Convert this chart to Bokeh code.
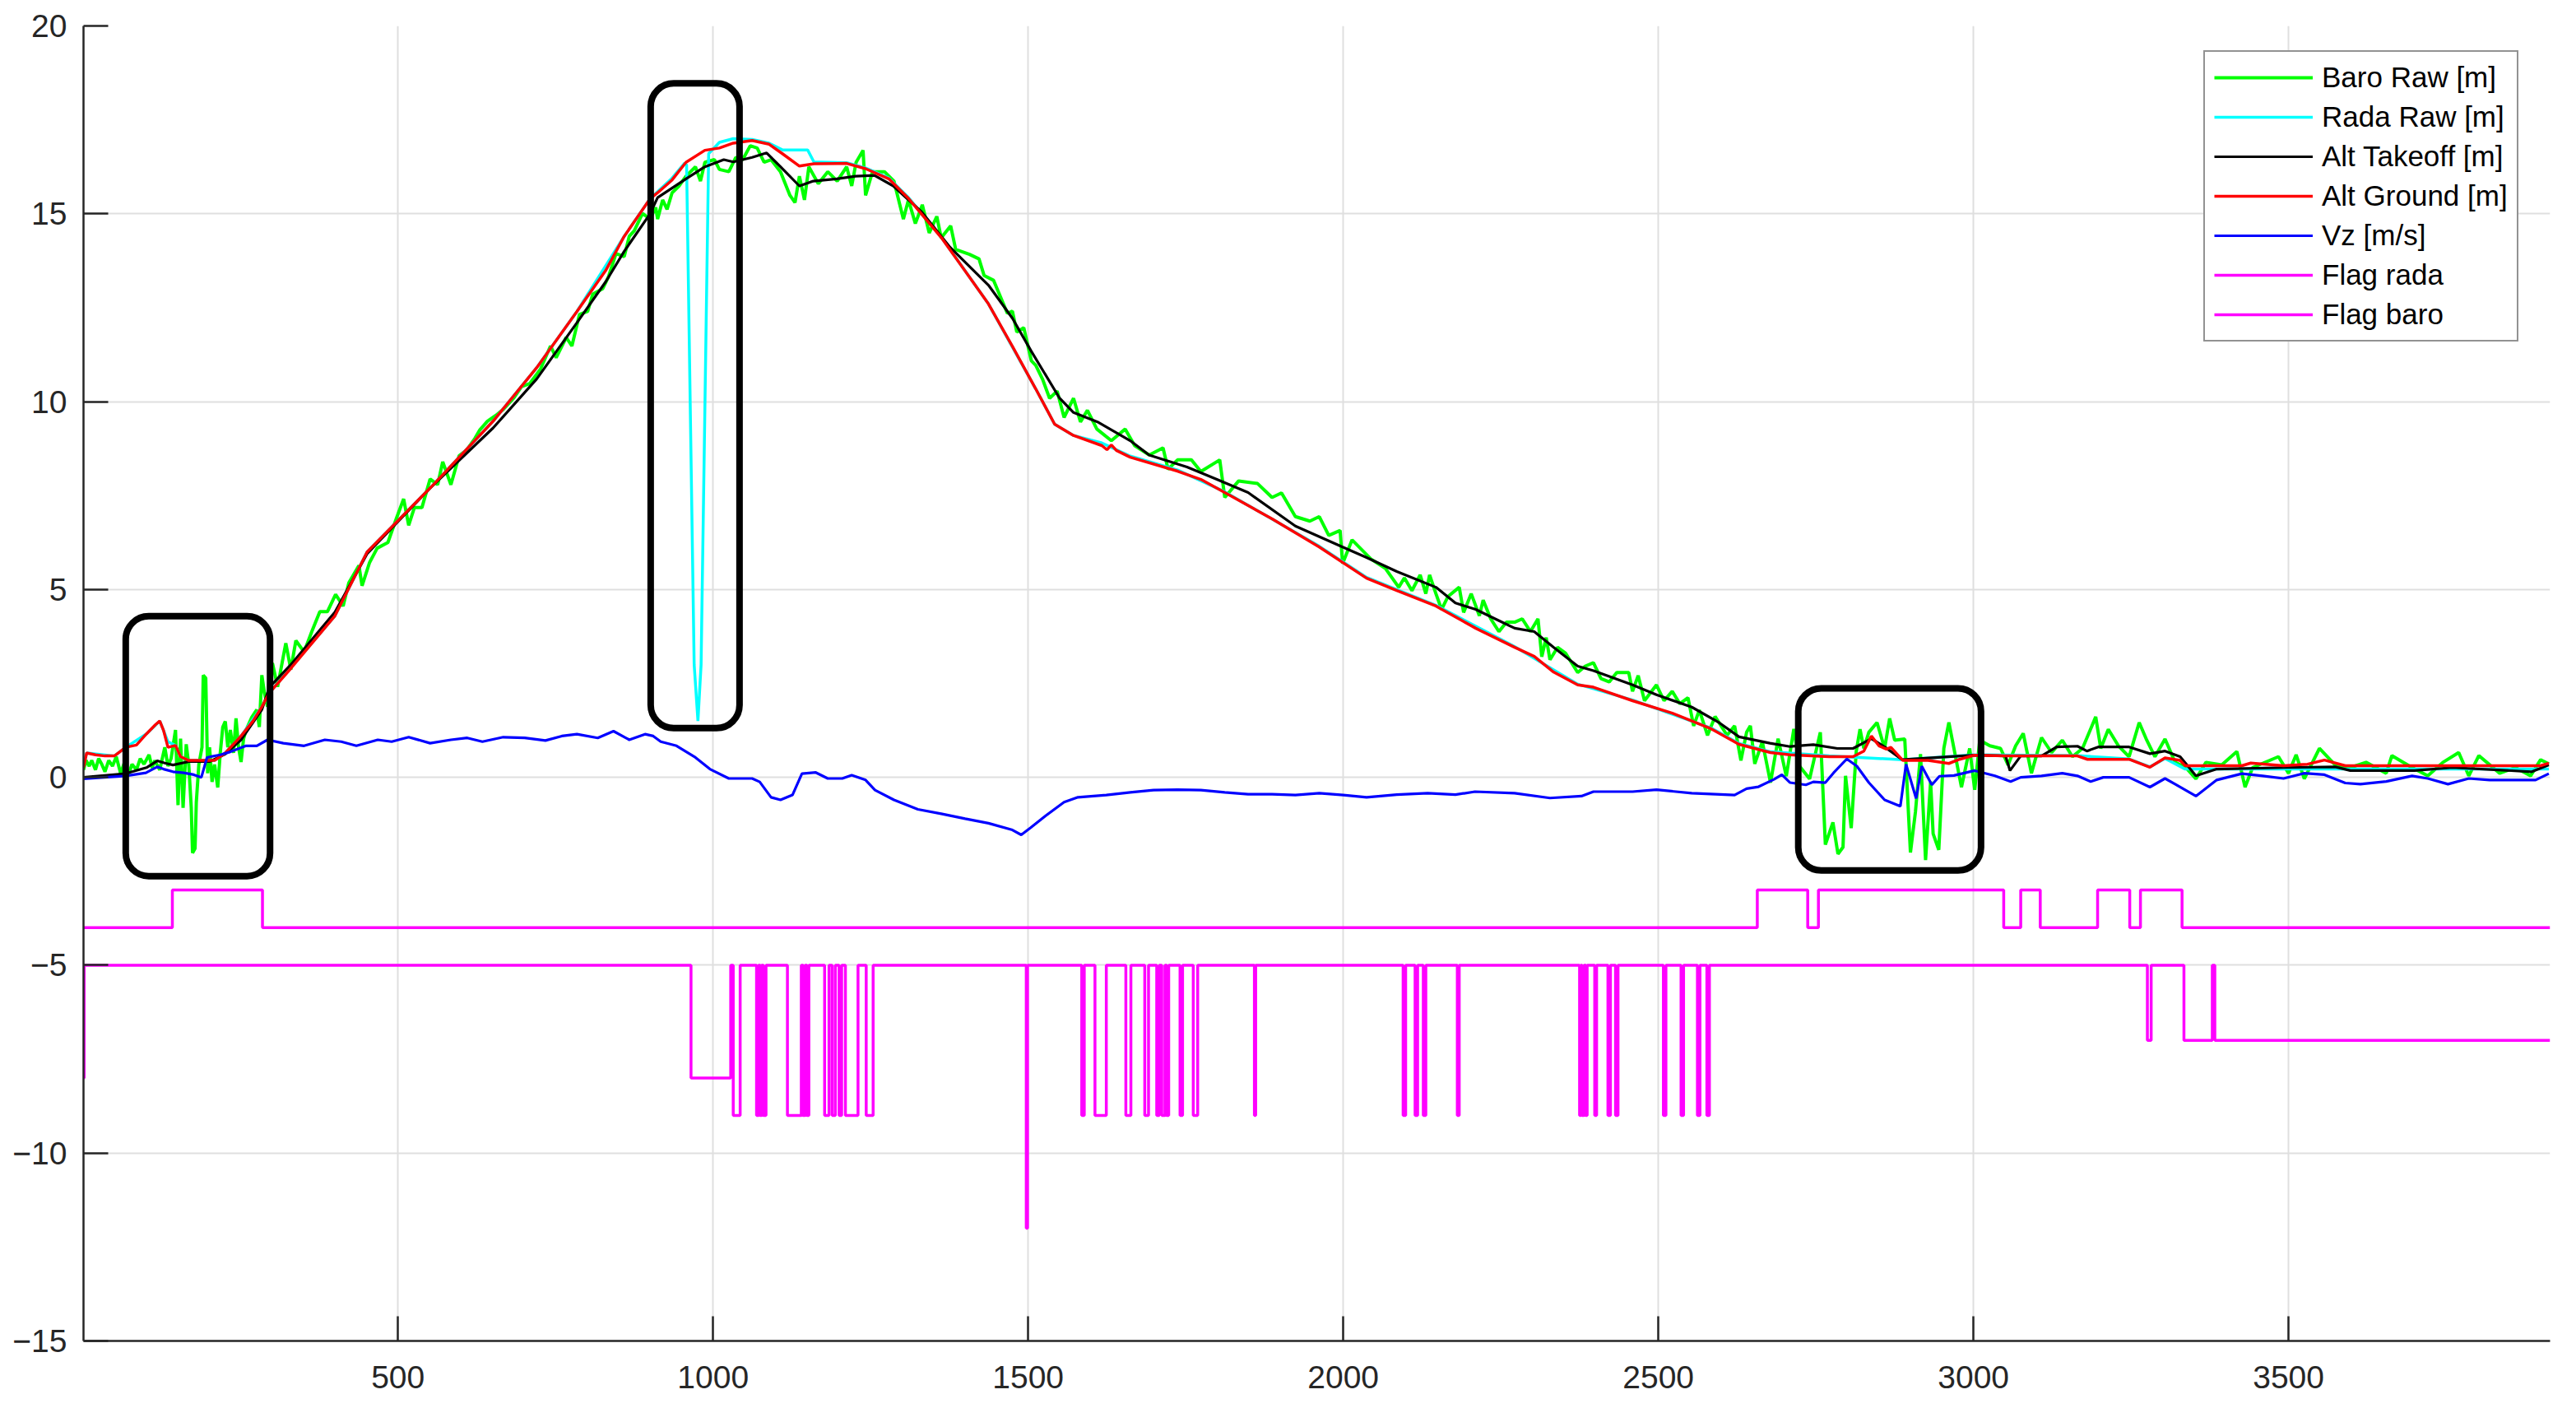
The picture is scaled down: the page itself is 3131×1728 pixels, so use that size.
from bokeh.plotting import figure
from bokeh.models import Range1d, FixedTicker
from bokeh.embed import file_html
from bokeh.resources import INLINE

# ---------------- data ----------------
baro_x = [1,5,10,14,20,25,30,35,41,47,53,60,66,72,78,85,91,97,105,110,114,122,130,135,
          140,147,151,155,159,164,168,172,174,178,180,184,189,191,195,198,201,205,209,214,218,222,226,230,234,239,243,247,251,255,259,268,276,280,284,288,293,297,
          301,309,322,330,338,351,363,376,388,401,413,422,438,443,455,467,484,497,509,517,526,538,551,563,571,584,597,609,622,630,642,655,667,684,696,709,726,742,751,767,776,788,801,809,825,834,846,859,867,875,888,900,909,
          912,920,927,935,946,957,972,980,987,1002,1010,1025,1036,1047,1059,1070,1081,1092,1107,1122,1130,1137,1145,1152,1167,1182,1197,1212,1220,1227,1238,1242,1253,1272,1287,1302,1310,1321,1332,1343,1355,1362,1377,1385,1407,1422,1430,1445,1467,1475,1482,1493,1505,1512,1523,1534,1546,1557,1572,1583,1594,1609,1632,1654,1669,1692,1714,1722,1737,1759,1774,1804,1812,1834,1864,1887,1902,1924,1947,1962,1977,1995,1999,2014,2044,2067,2088,
          2097,2109,2122,2131,2137,2147,2156,2166,2184,2191,2203,2216,2222,2234,2247,2259,2272,2284,2297,2309,2315,2322,2328,2340,2353,2372,2384,2397,2409,2422,2434,2453,2459,2468,2478,2497,2509,2522,2534,2547,2556,2565,2578,2590,2609,2621,2631,2640,2646,2653,2665,2678,2690,2703,2715,
          2724,2740,2757,2765,2777,2785,2793,2797,2806,2814,2820,2826,2834,2847,2859,2867,2875,2891,2900,2908,2916,2924,2932,2936,2945,2953,2961,2969,2981,2994,3002,3010,3026,3043,3055,3067,3079,3092,3108,3124,3141,3157,3173,3194,3202,3214,3230,3247,3263,3275,3288,3304,3320,3337,3353,3369,3394,3418,3431,3443,3484,3500,3512,3525,3549,3574,3598,3623,3655,3664,3696,3721,3745,3770,3786,3802,3835,3860,3884,3900,3913]
baro_y = [0.2,0.45,0.3,0.45,0.2,0.5,0.35,0.15,0.45,0.3,0.55,0.1,0.4,0.05,0.35,0.2,0.5,0.35,0.6,0.25,0.45,0.2,0.8,0.3,
          0.5,1.26,-0.74,1.03,-0.81,0.88,0.34,-0.81,-2.01,-1.89,-0.66,0.34,0.8,2.72,2.64,0.11,0.8,-0.12,0.34,-0.27,0.65,1.34,1.49,0.8,1.26,0.65,1.57,0.8,0.41,1.03,1.26,1.6,1.8,1.34,2.72,2.26,1.88,3.03,
          3.03,2.41,3.57,2.87,3.64,3.34,3.87,4.41,4.41,4.87,4.56,5.18,5.64,5.1,5.72,6.1,6.25,6.87,7.41,6.71,7.18,7.18,7.94,7.79,8.4,7.79,8.56,8.71,9.02,9.25,9.48,9.63,9.79,10.1,10.4,10.48,10.86,11.48,11.17,11.71,11.48,12.32,12.4,12.86,13.01,13.32,13.94,13.86,14.4,14.55,15.01,14.86,15.17,
          14.86,15.37,15.12,15.56,15.74,16.0,16.25,15.87,16.37,16.44,16.18,16.12,16.5,16.44,16.81,16.75,16.37,16.44,16.12,15.49,15.3,16.0,15.37,16.25,15.8,16.12,15.87,16.25,15.74,16.37,16.69,15.49,16.12,16.12,15.87,14.86,15.37,14.74,15.24,14.49,14.93,14.36,14.68,14.05,13.92,13.8,13.36,13.23,12.35,12.41,11.85,11.97,11.09,10.97,10.59,10.09,10.28,9.58,10.09,9.46,9.77,9.27,8.96,9.27,8.83,8.58,8.77,8.2,8.45,8.45,8.14,8.45,7.45,7.89,7.82,7.45,7.57,6.94,6.82,6.94,6.44,6.57,5.69,6.32,5.81,5.56,5.06,
          5.31,4.97,5.39,4.89,5.39,4.89,4.47,4.81,5.06,4.39,4.89,4.3,4.72,4.22,3.88,4.13,4.13,4.22,3.88,4.22,3.21,3.72,3.13,3.46,3.3,2.79,2.96,3.05,2.63,2.54,2.79,2.79,2.29,2.71,2.04,2.46,2.04,2.29,1.96,2.12,1.37,1.79,1.12,1.62,1.12,1.37,0.45,1.2,1.37,0.36,0.95,-0.14,1.03,0.03,1.29,
          0.3,-0.04,1.2,-1.79,-1.2,-2.04,-1.86,0.04,-1.35,0.69,1.28,0.77,1.2,1.46,0.77,1.57,0.99,1.02,-2.0,-0.91,0.62,-2.2,-0.11,-1.5,-1.93,0.77,1.46,0.77,-0.26,0.77,-0.33,0.99,0.84,0.77,0.33,0.84,1.17,0.11,1.06,0.66,0.99,0.55,0.77,1.61,0.77,1.28,0.84,0.55,1.46,0.99,0.55,1.02,0.4,0.26,-0.04,0.4,0.33,0.69,-0.26,0.26,0.55,0.11,0.6,-0.04,0.77,0.33,0.26,0.4,0.11,0.58,0.26,0.04,0.4,0.66,0.04,0.58,0.11,0.26,0.04,0.47,0.36]

rada_x = [1,6,50,68,101,122,128,135,147,155,168,209,226,251,284,296,400,451,551,651,720,784,859,900,935,955,958,970,976,981,993,1010,1032,1062,1089,1110,1150,1160,1212,1242,1279,1309,1362,1437,1512,1542,1572,1617,1662,1737,1812,1962,2037,2147,2272,2372,2459,2584,2628,2678,2771,2888,3001,3165,3247,3280,3304,3336,3913]
rada_y = [0.3,0.65,0.57,0.8,1.16,1.5,1.25,0.95,0.85,0.55,0.45,0.45,0.65,1.1,1.88,2.25,4.3,6.0,7.7,9.48,10.9,12.4,14.4,15.4,15.95,16.35,16.3,3.0,1.5,3.0,16.6,16.9,17.0,16.98,16.88,16.7,16.7,16.38,16.36,16.22,15.95,15.45,14.38,12.6,10.34,9.4,9.1,8.9,8.55,8.18,7.6,6.15,5.32,4.58,3.48,2.48,2.06,1.31,0.9,0.68,0.57,0.47,0.6,0.58,0.49,0.28,0.5,0.22,0.22]

takeoff_x = [1,68,101,118,130,143,168,201,226,251,284,296,330,400,451,551,651,720,784,830,859,900,912,957,987,1017,1032,1062,1085,1107,1137,1159,1196,1226,1256,1286,1331,1376,1437,1475,1505,1550,1572,1610,1662,1692,1752,1797,1849,1924,1999,2037,2085,2147,2178,2210,2241,2272,2303,2334,2372,2397,2459,2497,2553,2597,2628,2677,2709,2746,2784,2809,2838,2860,2887,3001,3051,3058,3075,3108,3132,3165,3180,3198,3247,3280,3304,3328,3353,3386,3492,3574,3598,3700,3760,3886,3913]
takeoff_y = [0.0,0.1,0.26,0.44,0.38,0.33,0.42,0.42,0.62,1.0,1.8,2.4,3.0,4.4,5.95,7.7,9.3,10.6,12.1,13.2,14.0,15.0,15.43,15.93,16.25,16.44,16.38,16.5,16.62,16.25,15.74,15.87,15.93,16.0,16.02,15.74,15.05,14.11,13.1,12.22,11.34,10.09,9.71,9.46,8.96,8.58,8.26,7.95,7.58,6.69,6.13,5.85,5.48,5.06,4.64,4.47,4.22,3.97,3.88,3.46,2.96,2.84,2.46,2.2,1.87,1.45,1.08,0.91,0.82,0.87,0.77,0.77,1.03,0.8,0.47,0.59,0.57,0.18,0.57,0.57,0.81,0.83,0.7,0.81,0.81,0.63,0.7,0.55,0.04,0.22,0.26,0.28,0.18,0.18,0.26,0.15,0.33]

ground_x = [1,6,20,35,50,68,85,101,115,122,128,135,147,155,168,185,209,226,251,270,284,296,330,400,451,551,651,720,784,830,859,900,912,935,957,987,1010,1032,1062,1089,1110,1137,1160,1212,1242,1279,1309,1362,1399,1437,1475,1512,1542,1572,1617,1625,1632,1640,1662,1737,1774,1812,1887,1962,2037,2085,2147,2210,2272,2303,2334,2372,2397,2459,2522,2584,2628,2678,2709,2771,2809,2826,2838,2850,2862,2869,2888,2928,2961,2978,3001,3051,3165,3181,3247,3280,3304,3328,3336,3426,3440,3492,3530,3557,3590,3900,3913]
ground_y = [0.26,0.65,0.6,0.57,0.57,0.8,0.86,1.16,1.4,1.5,1.25,0.8,0.85,0.55,0.45,0.45,0.45,0.65,1.1,1.5,1.88,2.25,2.9,4.3,6.0,7.7,9.48,10.9,12.4,13.5,14.4,15.4,15.56,15.9,16.37,16.69,16.75,16.88,16.95,16.85,16.6,16.27,16.33,16.34,16.2,15.93,15.43,14.37,13.5,12.6,11.47,10.34,9.4,9.1,8.83,8.72,8.85,8.7,8.52,8.15,7.93,7.58,6.88,6.13,5.3,4.97,4.56,3.97,3.46,3.22,2.8,2.46,2.4,2.04,1.71,1.29,0.88,0.66,0.6,0.55,0.55,0.7,1.1,0.84,0.75,0.8,0.45,0.45,0.37,0.48,0.59,0.57,0.57,0.48,0.48,0.27,0.52,0.45,0.31,0.31,0.38,0.31,0.35,0.46,0.31,0.31,0.38]

vz_x = [1,68,100,118,128,143,160,176,188,197,218,234,259,276,293,318,351,384,410,434,468,490,517,551,584,610,634,667,701,734,760,784,817,842,867,892,905,917,942,972,995,1025,1062,1074,1092,1107,1126,1141,1163,1182,1205,1220,1242,1257,1287,1325,1362,1400,1437,1475,1489,1504,1527,1557,1579,1624,1662,1699,1737,1774,1812,1849,1887,1924,1962,2000,2037,2085,2134,2178,2209,2272,2328,2378,2397,2459,2497,2553,2621,2640,2659,2684,2696,2709,2734,2746,2765,2778,2799,2815,2834,2859,2884,2893,2909,2918,2934,2946,2969,3002,3034,3059,3075,3108,3141,3165,3186,3206,3247,3280,3304,3320,3353,3386,3426,3459,3492,3525,3557,3590,3614,3655,3696,3721,3753,3786,3819,3860,3892,3913]
vz_y = [-0.04,0.04,0.12,0.28,0.22,0.15,0.12,0.07,0.0,0.53,0.6,0.68,0.84,0.84,1.0,0.91,0.84,1.0,0.95,0.84,1.0,0.95,1.07,0.91,1.0,1.05,0.95,1.07,1.05,0.98,1.1,1.15,1.05,1.23,1.0,1.15,1.1,0.95,0.84,0.53,0.22,-0.03,-0.03,-0.12,-0.53,-0.6,-0.47,0.1,0.13,-0.03,-0.03,0.06,-0.07,-0.34,-0.6,-0.85,-0.97,-1.1,-1.22,-1.4,-1.53,-1.34,-1.03,-0.66,-0.53,-0.47,-0.4,-0.34,-0.33,-0.34,-0.4,-0.45,-0.45,-0.47,-0.42,-0.47,-0.53,-0.46,-0.42,-0.46,-0.38,-0.42,-0.55,-0.5,-0.38,-0.38,-0.33,-0.42,-0.47,-0.3,-0.25,-0.05,0.07,-0.14,-0.2,-0.12,-0.14,0.12,0.49,0.3,-0.14,-0.6,-0.77,0.35,-0.56,0.3,-0.2,0.03,0.05,0.18,0.04,-0.11,0.0,0.04,0.11,0.04,-0.11,0.0,0.0,-0.26,-0.03,-0.18,-0.5,-0.07,0.1,0.04,-0.03,0.11,0.07,-0.15,-0.18,-0.11,0.04,-0.03,-0.18,-0.03,-0.07,-0.07,-0.07,0.1]

flag_rada_x = [1,142,285,2657,2737,2754,3048,3075,3106,3197,3248,3265,3331,3915]
flag_rada_y = [-4,-3,-4,-3,-4,-3,-4,-3,-4,-3,-4,-3,-4,-4]

flag_baro_x = [1,2,965,1028,1032,1043,1069,1072,1075,1077,1080,1084,1118,1140,1143,1146,1149,1152,1177,1184,1189,1194,1200,1204,1210,1230,1243,1254,1497,1499,1585,1589,1606,1624,1655,1663,1685,1691,1704,1708,1712,1717,1720,1723,1741,1745,1762,1769,1859,1861,2095,2099,2114,2118,2127,2131,2181,2184,2375,2377,2379,2382,2385,2387,2399,2402,2420,2424,2432,2436,2508,2512,2536,2540,2562,2566,2577,2581,3276,3282,3334,3379,3383,3915]
flag_baro_y = [-8,-5,-8,-5,-9,-5,-9,-5,-9,-5,-9,-5,-9,-5,-9,-5,-9,-5,-9,-5,-9,-5,-9,-5,-9,-5,-9,-5,-12,-5,-9,-5,-9,-5,-9,-5,-9,-5,-9,-5,-9,-5,-9,-5,-9,-5,-9,-5,-9,-5,-9,-5,-9,-5,-9,-5,-9,-5,-9,-5,-9,-5,-9,-5,-9,-5,-9,-5,-9,-5,-9,-5,-9,-5,-9,-5,-9,-5,-7,-5,-7,-5,-7,-7]

# highlighted regions (data extents)
mark_left = [68, 901, 2722]
mark_right = [297, 1042, 3012]
mark_top = [4.29, 18.47, 2.37]
mark_bottom = [-2.63, 1.31, -2.48]

x_ticks = [500, 1000, 1500, 2000, 2500, 3000, 3500]
y_ticks = [-15, -10, -5, 0, 5, 10, 15, 20]

# ---------------- figure ----------------
FONT = "Liberation Sans"
AX = "#262626"

p = figure(width=3122, height=1719, output_backend="svg", toolbar_location=None,
           x_range=Range1d(1, 3915), y_range=Range1d(-15, 20),
           min_border_left=101, min_border_top=31, min_border_right=23, min_border_bottom=90)
p.outline_line_color = None
p.background_fill_color = "white"
p.border_fill_color = "white"

for ax in (p.xaxis[0], p.yaxis[0]):
    ax.axis_line_color = AX
    ax.axis_line_width = 2.5
    ax.major_tick_line_color = AX
    ax.major_tick_line_width = 2.5
    ax.major_tick_in = 30
    ax.major_tick_out = 0
    ax.minor_tick_line_color = None
    ax.major_label_text_font = FONT
    ax.major_label_text_font_size = "39px"
    ax.major_label_text_color = AX
p.xaxis.ticker = FixedTicker(ticks=x_ticks)
p.yaxis.ticker = FixedTicker(ticks=y_ticks)
p.xaxis.major_label_standoff = 30
p.yaxis.major_label_standoff = 20
p.yaxis.major_label_overrides = {t: ("\u2212" + str(abs(t)) if t < 0 else str(t)) for t in y_ticks}

p.xgrid.grid_line_color = "#dfdfdf"
p.ygrid.grid_line_color = "#dfdfdf"
p.xgrid.grid_line_width = 2
p.ygrid.grid_line_width = 2

p.line(baro_x, baro_y, color="#00ff00", line_width=4, legend_label="Baro Raw [m]")
p.line(rada_x, rada_y, color="#00ffff", line_width=3.5, legend_label="Rada Raw [m]")
p.line(takeoff_x, takeoff_y, color="#000000", line_width=3.2, legend_label="Alt Takeoff [m]")
p.line(ground_x, ground_y, color="#ff0000", line_width=3.5, legend_label="Alt Ground [m]")
p.line(vz_x, vz_y, color="#0000ff", line_width=3.2, legend_label="Vz [m/s]")
p.step(flag_rada_x, flag_rada_y, mode="after", color="#ff00ff", line_width=3.5, legend_label="Flag rada")
p.step(flag_baro_x, flag_baro_y, mode="after", color="#ff00ff", line_width=3.5, legend_label="Flag baro")

p.quad(left=mark_left, right=mark_right, top=mark_top, bottom=mark_bottom,
       fill_color=None, line_color="black", line_width=8, border_radius=28)

lg = p.legend[0]
lg.location = (2577, 1214)
lg.label_text_font = FONT
lg.label_text_font_size = "35px"
lg.label_text_color = "#000000"
lg.glyph_width = 120
lg.glyph_height = 40
lg.label_height = 40
lg.spacing = 8
lg.padding = 11
lg.margin = 0
lg.label_standoff = 11
lg.border_line_color = AX
lg.border_line_width = 2
lg.background_fill_color = "white"
lg.background_fill_alpha = 1.0

open("out.html", "w").write(file_html(p, INLINE, title="chart"))
